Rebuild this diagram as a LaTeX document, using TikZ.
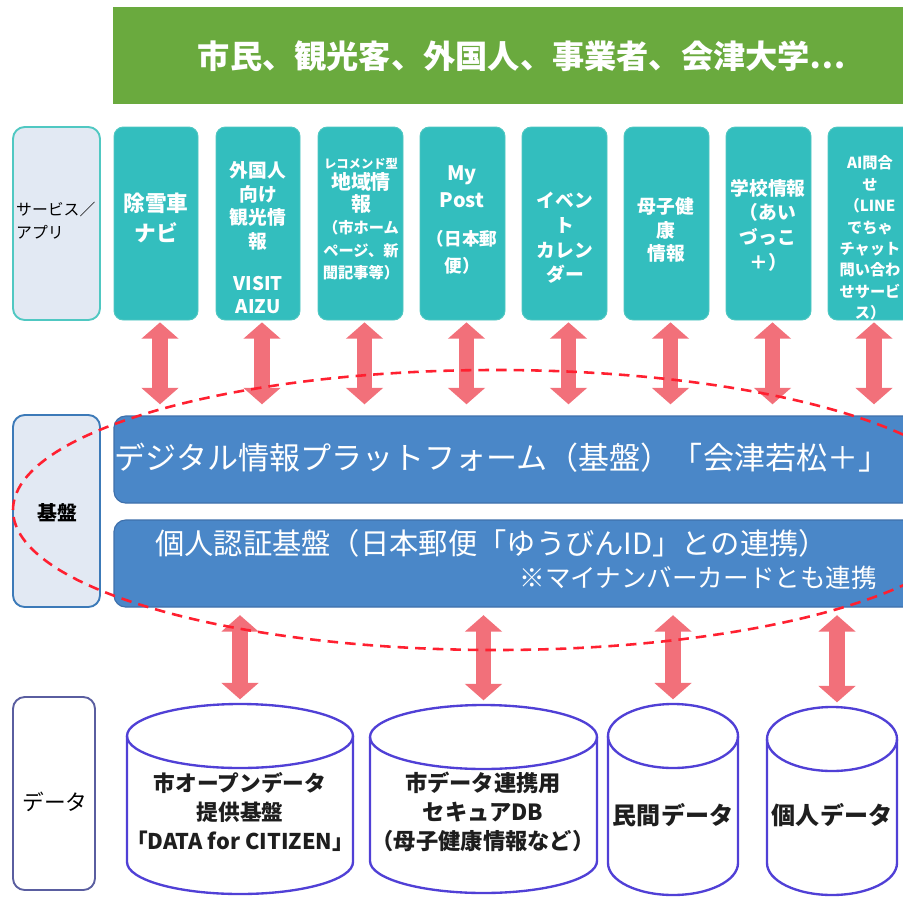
\documentclass[tikz,border=0pt]{standalone}
\usepackage{fontspec}
\setmainfont{Noto Sans CJK JP}
\usetikzlibrary{arrows.meta,calc,fit}
\definecolor{bannergreen}{RGB}{106,170,62}
\definecolor{svcteal}{RGB}{51,190,190}
\definecolor{svcedge}{RGB}{80,200,194}
\definecolor{lightfill}{RGB}{226,233,243}
\definecolor{barblue}{RGB}{74,135,200}
\definecolor{baredge}{RGB}{62,112,172}
\definecolor{kibanedge}{RGB}{60,122,184}
\definecolor{dataedge}{RGB}{90,94,160}
\definecolor{cylblue}{RGB}{80,64,214}
\definecolor{dashred}{RGB}{255,32,48}
\definecolor{arrowpink}{RGB}{242,112,122}
\definecolor{darktext}{RGB}{30,30,30}
\newcommand{\fsz}[2]{\fontsize{#1pt}{#2pt}\selectfont}
\begin{document}
\begin{tikzpicture}[x=0.03cm,y=-0.03cm,
  box/.style={inner sep=0pt,outer sep=0pt},
  svc/.style={box,fill=svcteal,draw=svcedge,line width=0.8pt,rounded corners=8pt},
  lbl/.style={box,fill=lightfill,line width=1.6pt,rounded corners=10pt},
  bar/.style={box,fill=barblue,draw=baredge,line width=1pt,rounded corners=10pt},
  svctext/.style={text=white,font=\bfseries,align=center,inner sep=0pt},
  cyl/.style={draw=cylblue,line width=2pt},
  cyltext/.style={text=darktext,font=\bfseries,align=center,inner sep=0pt},
  dbl/.style={draw=arrowpink,line width=13.5pt,
    {Triangle[width=31pt,length=14pt]}-{Triangle[width=31pt,length=14pt]}},
  ring/.style={draw=dashred,line width=2.2pt,dash pattern=on 9pt off 6pt}
]
\useasboundingbox (0,0) rectangle (903,897);
\clip (0,0) rectangle (903,897);
\fill[white] (0,0) rectangle (903,897);

% banner
\node[box,fill=bannergreen,fit={(113,7) (920,104)}] (banner) {};
\node[text=white,inner sep=0pt,font=\bfseries\fsz{27.5}{32}] (bt) at (522,56) {市民、観光客、外国人、事業者、会津大学…};

% left labels
\node[lbl,draw=svcedge,fit={(13,127) (100,320)}] (lsvc) {};
\node[anchor=west,align=left,inner sep=0pt,font=\fsz{13.5}{19.5}] (lsvct) at (16,221) {サービス／\\アプリ};
\node[lbl,draw=kibanedge,fit={(13,415) (100,607)}] (lkib) {};
\node[inner sep=0pt,font=\bfseries\fsz{17}{20}] (lkibt) at (57,513) {基盤};
\node[lbl,fill=white,draw=dataedge,fit={(13,697) (95,890)}] (ldat) {};
\node[inner sep=0pt,font=\fsz{18.5}{20}] (ldatt) at (55,802) {データ};

% service boxes
\node[svc,fit={(114,127) (198,320)}] (s1) {};
\node[svc,fit={(216,127) (300,320)}] (s2) {};
\node[svc,fit={(318,127) (403,320)}] (s3) {};
\node[svc,fit={(420,127) (505,320)}] (s4) {};
\node[svc,fit={(522,127) (607,320)}] (s5) {};
\node[svc,fit={(624,127) (709,320)}] (s6) {};
\node[svc,fit={(726,127) (811,320)}] (s7) {};
\node[svc,fit={(828,127) (912,320)}] (s8) {};

\node[svctext,font=\bfseries\fsz{18.5}{25.5}] (t1) at (156,218) {除雪車\\ナビ};
\node[svctext,font=\bfseries\fsz{16}{20}] (t2) at (258,238) {外国人\\向け\\観光情\\報\\[16pt]VISIT\\AIZU};
\node[svctext,font=\bfseries\fsz{13}{19}] (t3) at (361,219) {{\fsz{10.5}{13}レコメンド型}\\[-1pt]{\fsz{17}{20}地域情}\\{\fsz{17}{22}報}\\（市ホーム\\ページ、新\\聞記事等）};
\node[svctext,font=\bfseries\fsz{17}{23}] (t4) at (462,220) {My\\Post\\[10pt]{\fsz{15}{21}（日本郵}\\{\fsz{15}{21}便）}};
\node[svctext,font=\bfseries\fsz{16}{21}] (t5) at (565,238) {イベン\\ト\\カレン\\ダー};
\node[svctext,font=\bfseries\fsz{16}{20}] (t6) at (666,230) {母子健\\康\\情報};
\node[svctext,font=\bfseries\fsz{16}{21}] (t7) at (768,225) {学校情報\\（あい\\づっこ\\＋）};
\node[svctext,font=\bfseries\fsz{13}{18.3}] (t8) at (870,238) {AI問合\\せ\\（LINE\\でちゃ\\チャット\\問い合わ\\せサービ\\ス）};

% platform bars
\node[bar,fit={(114,416) (920,503)}] (plat) {};
\node[text=white,inner sep=0pt,font=\fsz{26.5}{30}] (platt) at (502,458) {デジタル情報プラットフォーム（基盤）「会津若松＋」};
\node[bar,fit={(114,520) (920,607)}] (pers) {};
\node[anchor=west,text=white,inner sep=0pt,font=\fsz{25}{28}] (perst1) at (155,543) {個人認証基盤（日本郵便「ゆうびんID」との連携）};
\node[anchor=east,text=white,inner sep=0pt,font=\fsz{21.8}{24}] (perst2) at (877,578) {※マイナンバーカードとも連携};

% upper arrows
\foreach \i in {1,...,8}{
  \draw[dbl,shorten <=2pt,shorten >=10pt] ([xshift=0.12cm]s\i.south) -- ([xshift=0.12cm]s\i.south |- plat.north);
}

% cylinders
\node[box,fit={(127,704) (353,894)}] (d1) {};
\node[box,fit={(370,705) (597,893)}] (d2) {};
\node[box,fit={(608,704) (738,895)}] (d3) {};
\node[box,fit={(767,707) (897,895)}] (d4) {};

\draw[cyl] (240,736) ellipse [x radius=113, y radius=32];
\draw[cyl] (127,736) -- (127,862) arc[start angle=180, end angle=0, x radius=113, y radius=32] -- (353,736);
\draw[cyl] (483.5,737) ellipse [x radius=113.5, y radius=32];
\draw[cyl] (370,737) -- (370,861) arc[start angle=180, end angle=0, x radius=113.5, y radius=32] -- (597,737);
\draw[cyl] (673,736) ellipse [x radius=65, y radius=32];
\draw[cyl] (608,736) -- (608,863) arc[start angle=180, end angle=0, x radius=65, y radius=32] -- (738,736);
\draw[cyl] (832,739) ellipse [x radius=65, y radius=32];
\draw[cyl] (767,739) -- (767,863) arc[start angle=180, end angle=0, x radius=65, y radius=32] -- (897,739);

\node[cyltext,font=\bfseries\fsz{18.5}{25}] (c1) at (240,812) {市オープンデータ\\提供基盤\\「DATA for CITIZEN」};
\node[cyltext,font=\bfseries\fsz{19}{25}] (c2) at (483,812) {市データ連携用\\セキュアDB\\（母子健康情報など）};
\node[cyltext,font=\bfseries\fsz{20.5}{24}] (c3) at (673,815) {民間データ};
\node[cyltext,font=\bfseries\fsz{20.5}{24}] (c4) at (832,815) {個人データ};

% lower arrows
\draw[dbl,shorten <=7pt,shorten >=4pt] (d1.north |- pers.south) -- (d1.north);
\draw[dbl,shorten <=7pt,shorten >=4pt] (d2.north |- pers.south) -- (d2.north);
\draw[dbl,shorten <=7pt,shorten >=4pt] (d3.north |- pers.south) -- (d3.north);
\draw[dbl,shorten <=7pt,shorten >=4pt] ([xshift=0.15cm]d4.north |- pers.south) -- ([xshift=0.15cm]d4.north);

% dashed ring
\draw[ring] (496,510) ellipse [x radius=483, y radius=140];
\end{tikzpicture}
\end{document}
